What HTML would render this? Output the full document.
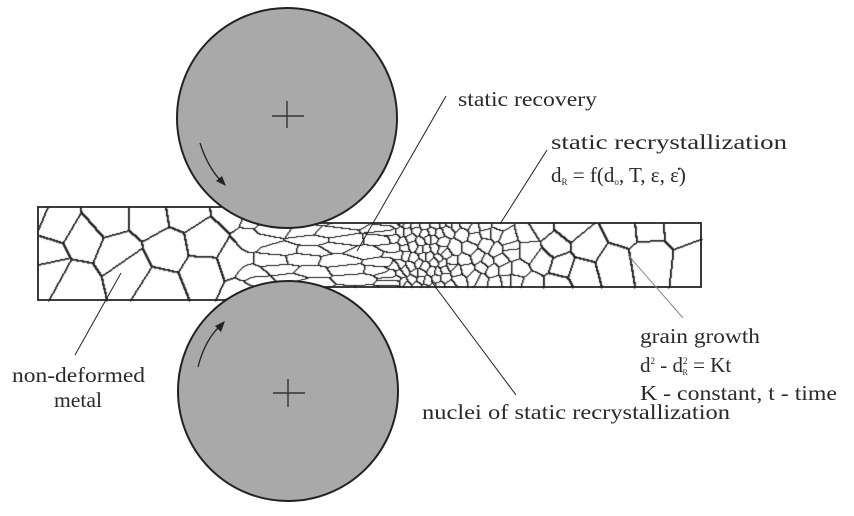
<!DOCTYPE html>
<html><head><meta charset="utf-8"><style>
html,body{margin:0;padding:0;background:#fff;}
#c,#s{position:absolute;left:0;top:0;display:block;}
text{font-family:"Liberation Serif","DejaVu Serif",serif;fill:#2a2a2a;}
</style></head><body>
<canvas id="c" width="854" height="516"></canvas>
<svg id="s" width="854" height="516" viewBox="0 0 854 516" xmlns="http://www.w3.org/2000/svg">
<path d="M38,207 H225 L262,223 H701 V287 H262 L225,300 H38 Z" fill="none" stroke="#222" stroke-width="1.8"/>
<circle cx="287" cy="118" r="110" fill="#a9a9a9" stroke="#222" stroke-width="2"/>
<circle cx="288" cy="391" r="110" fill="#a9a9a9" stroke="#222" stroke-width="2"/>
<path d="M272,116 H304 M287,101 V128" stroke="#333" stroke-width="1.4"/>
<path d="M273,393 H305 M288,379 V407" stroke="#333" stroke-width="1.4"/>
<path d="M200,143 Q208,168 222,182" fill="none" stroke="#222" stroke-width="1.3"/>
<path d="M226,186 L216,181 L222,176 Z" fill="#222"/>
<path d="M198,367 Q205,339 222,324" fill="none" stroke="#222" stroke-width="1.3"/>
<path d="M225,321 L221,332 L215,326 Z" fill="#222"/>
<line x1="446" y1="96" x2="357" y2="251" stroke="#222" stroke-width="1"/>
<line x1="547" y1="150" x2="500" y2="224" stroke="#222" stroke-width="1"/>
<line x1="431" y1="281" x2="516" y2="395" stroke="#222" stroke-width="1"/>
<line x1="628" y1="255" x2="683" y2="318" stroke="#888" stroke-width="1"/>
<line x1="121" y1="273" x2="75" y2="355" stroke="#222" stroke-width="1"/>
<text x="458" y="106" font-size="21" textLength="139" lengthAdjust="spacingAndGlyphs">static recovery</text>
<text x="551" y="149" font-size="21" textLength="236" lengthAdjust="spacingAndGlyphs">static recrystallization</text>
<text x="551" y="182" font-size="21">d<tspan font-size="9" dy="3">R</tspan><tspan dy="-3"> = f(d</tspan><tspan font-size="9" dy="3">o</tspan><tspan dy="-3">, T, ε, ε̇)</tspan></text>
<text x="640" y="343" font-size="21" textLength="120" lengthAdjust="spacingAndGlyphs">grain growth</text>
<text x="640" y="372" font-size="21">d<tspan font-size="9" dy="-8">2</tspan><tspan dy="8"> - d</tspan><tspan font-size="9" dy="-8">2</tspan><tspan font-size="8" dx="-5" dy="11">R</tspan><tspan dy="-3"> = Kt</tspan></text>
<text x="640" y="400" font-size="21" textLength="197" lengthAdjust="spacingAndGlyphs">K - constant, t - time</text>
<text x="12" y="382" font-size="21" textLength="133" lengthAdjust="spacingAndGlyphs">non-deformed</text>
<text x="54" y="407" font-size="21" textLength="48" lengthAdjust="spacingAndGlyphs">metal</text>
<text x="422" y="419" font-size="21" textLength="308" lengthAdjust="spacingAndGlyphs">nuclei of static recrystallization</text>
</svg>
<script>
(function(){
var seed=11;function r(){seed=(seed*16807)%2147483647;return seed/2147483647;}
var S=[];
function reg(x0,x1,y0,y1,sx,sy){
  for(var y=y0+sy/2;y<y1;y+=sy){
    var off=r()*sx;
    for(var x=x0+off;x<x1;x+=sx){S.push([x+(r()-0.5)*sx*0.7,y+(r()-0.5)*sy*0.7]);}
  }
}
reg(30,245,200,305,40,32);
reg(235,395,215,295,36,10);
reg(390,450,220,290,8,8);
reg(450,510,220,290,12,11);
reg(510,565,220,290,20,18);
reg(565,710,220,290,38,32);
S.sort(function(a,b){return a[0]-b[0];});
function ax(x){ if(x<235) return 1; if(x<260) return 1-(x-235)/25*0.7; if(x<385) return 0.3; if(x<400) return 0.3+(x-385)/15*0.7; return 1;}
function inside(x,y){
  if(x<38||x>701) return false;
  if(x<=225) return y>=207&&y<=300;
  if(x<262){var t=(x-225)/37;return y>=207+16*t&&y<=300-13*t;}
  return y>=223&&y<=287;
}
var W=854,H=516,lab=new Int32Array(W*H).fill(-1);
for(var y=200;y<=305;y++){
  for(var x=30;x<=710;x++){
    if(!inside(x,y)) continue;
    var a=ax(x),best=1e9,bi=-1;
    for(var i=0;i<S.length;i++){
      var dx=S[i][0]-x; if(dx<-70) continue; if(dx>70) break;
      var dy=S[i][1]-y, d=dx*dx*a*a+dy*dy;
      if(d<best){best=d;bi=i;}
    }
    lab[y*W+x]=bi;
  }
}
var c=document.getElementById('c').getContext('2d');
var img=c.createImageData(W,H),D=img.data;
for(var k=0;k<W*H;k++){D[k*4]=255;D[k*4+1]=255;D[k*4+2]=255;D[k*4+3]=255;}
function dark(k,v){if(D[k*4]>v){D[k*4]=v;D[k*4+1]=v;D[k*4+2]=v;}}
for(var y=200;y<305;y++){
  for(var x=30;x<710;x++){
    var k=y*W+x,l=lab[k]; if(l<0) continue;
    var rr=lab[k+1],bb=lab[k+W];
    if((rr>=0&&rr!=l)||(bb>=0&&bb!=l)){dark(k,30); if(x<235||x>540){dark(k+1,70);dark(k+W,110);} else {dark(k+1,150);}}
  }
}
c.putImageData(img,0,0);
})();
</script>
</body></html>
